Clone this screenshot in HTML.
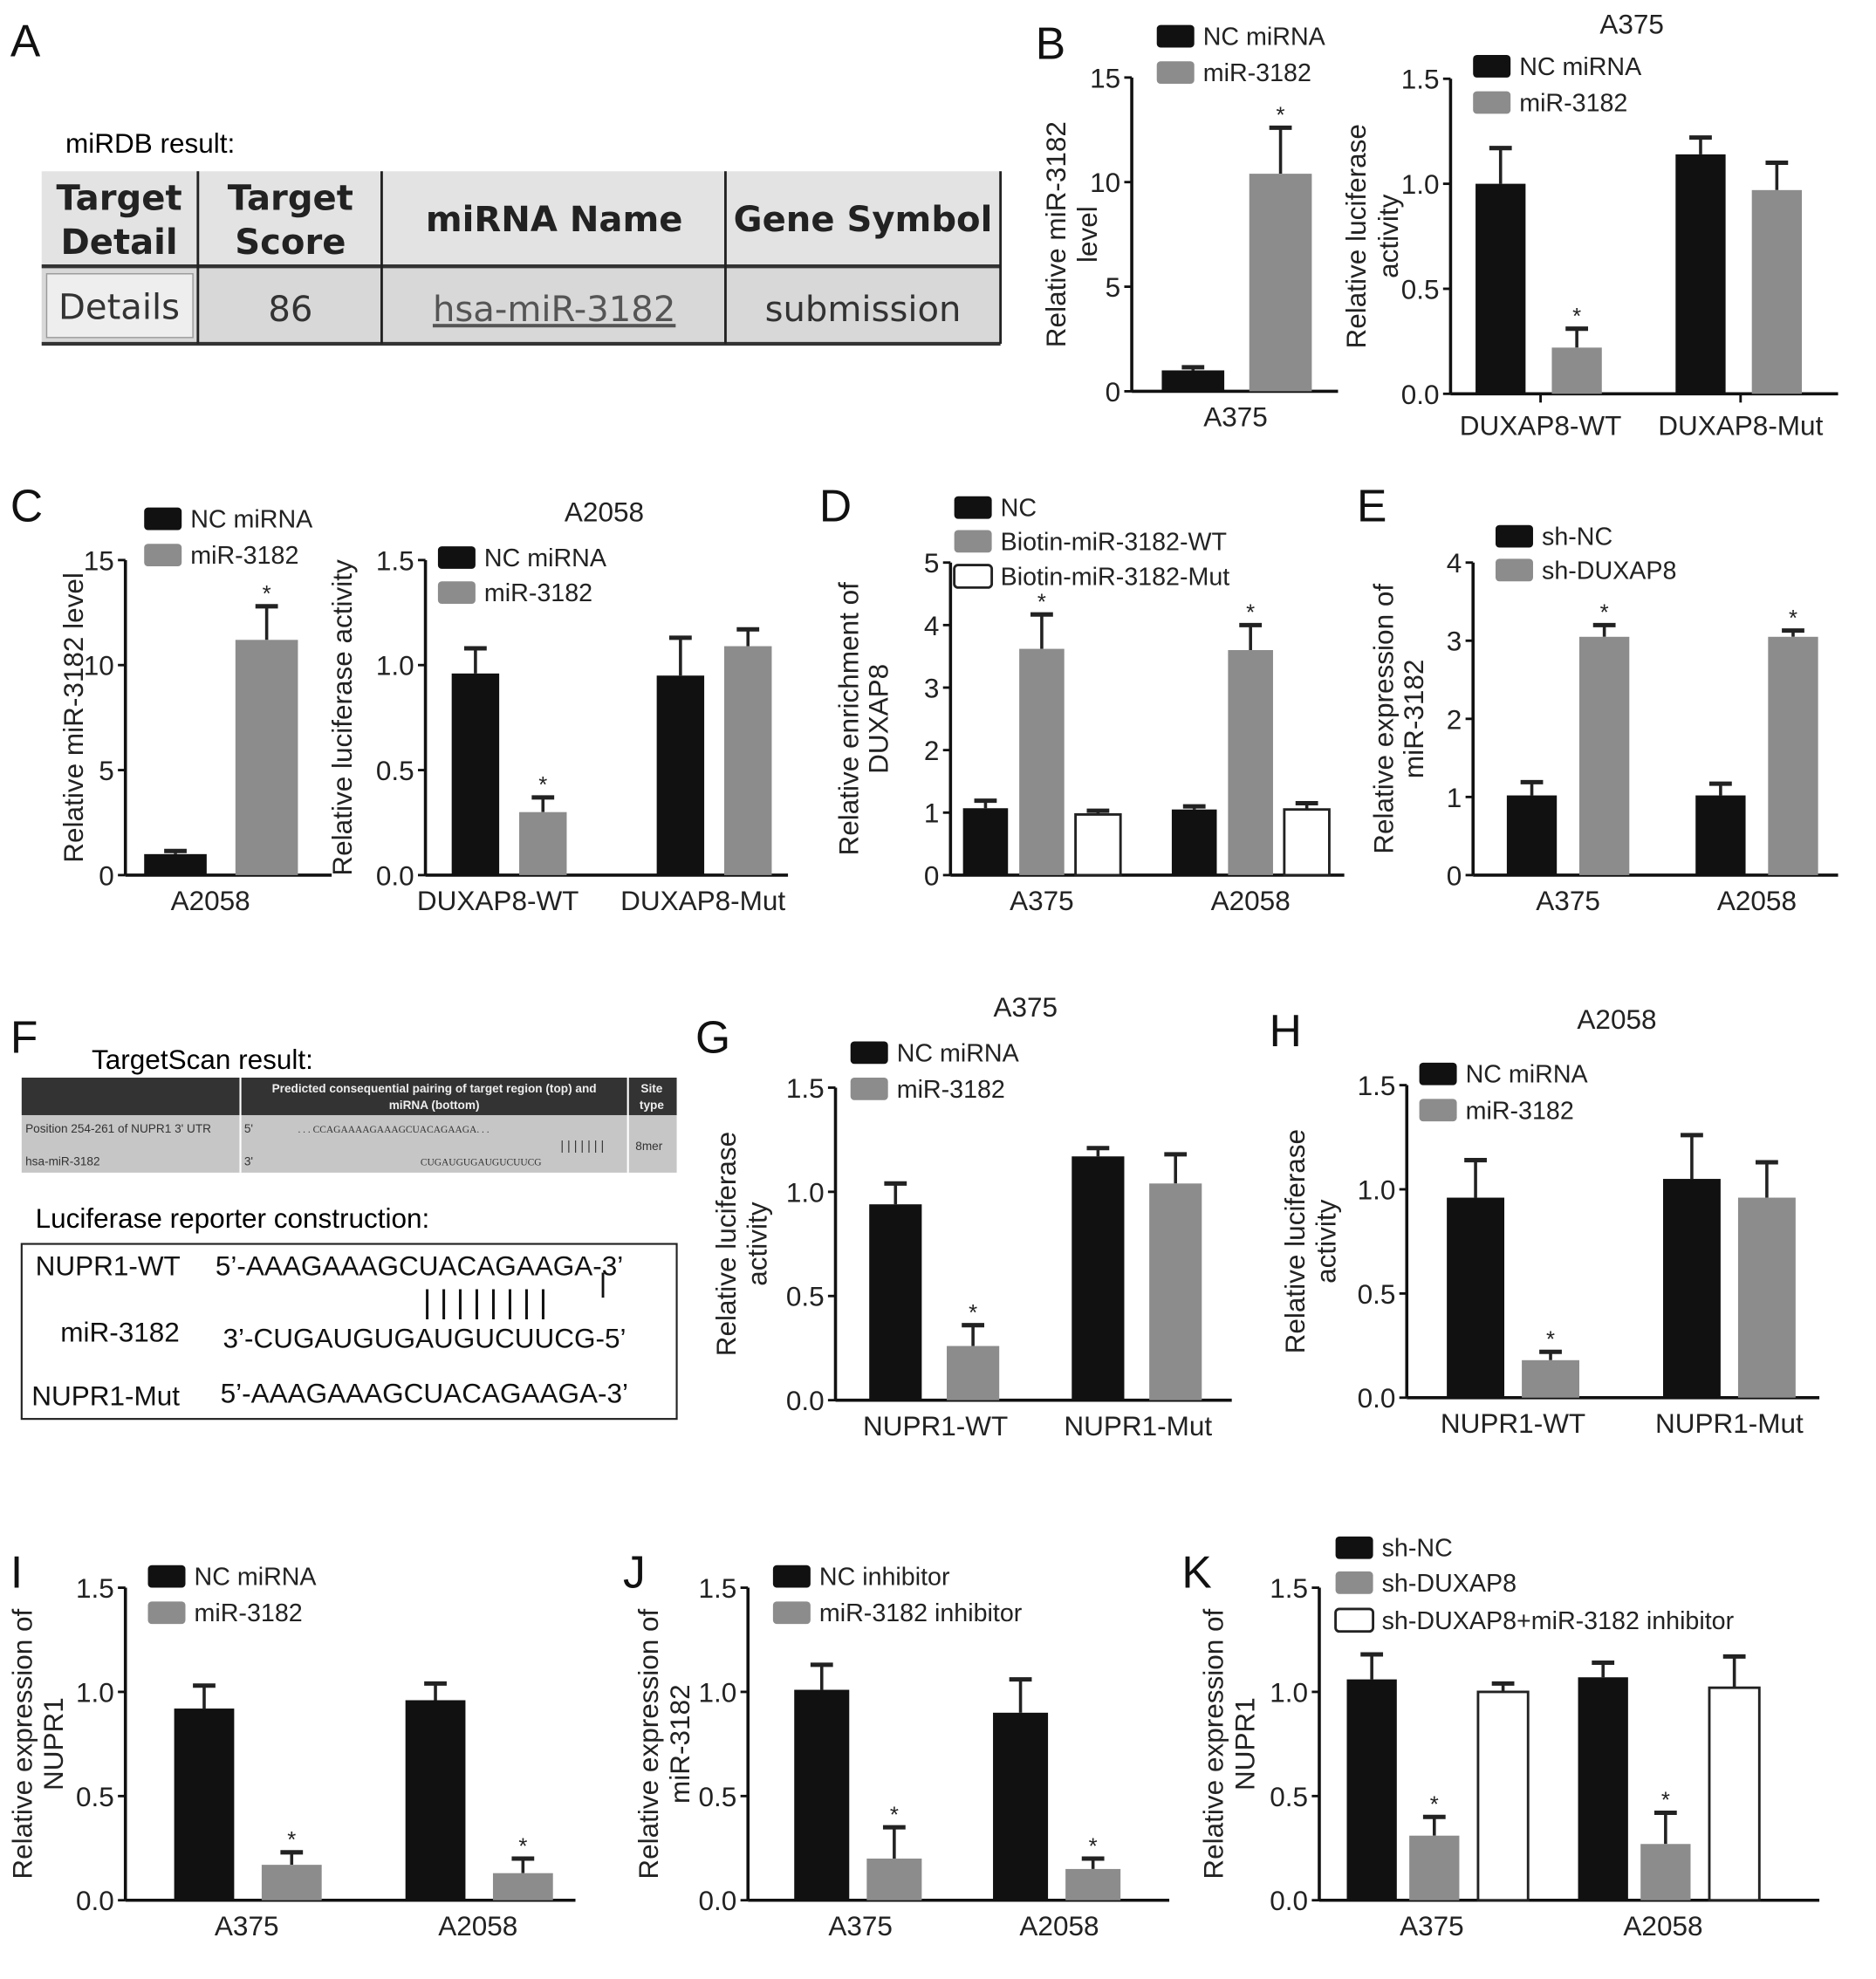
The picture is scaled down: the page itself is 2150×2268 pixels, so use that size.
<!DOCTYPE html>
<html><head><meta charset="utf-8"><style>
html,body{margin:0;padding:0;background:#fff;}
svg{display:block;font-family:"Liberation Sans",Arial,sans-serif;}
</style></head><body>
<svg id="fig" width="2150" height="2268" viewBox="0 0 1500 1583" xmlns="http://www.w3.org/2000/svg">
<g font-size="36" fill="#111">
<text x="8" y="45">A</text><text x="828" y="47">B</text><text x="8" y="417">C</text><text x="655" y="417">D</text><text x="1085" y="417">E</text><text x="8" y="842">F</text><text x="556" y="842">G</text><text x="1015" y="837">H</text><text x="8" y="1270">I</text><text x="498" y="1270">J</text><text x="945" y="1270">K</text>
</g>
<g>
<text x="52" y="122" font-size="22">miRDB result:</text>
<rect x="33" y="137" width="767" height="76" fill="#e3e3e3"/>
<rect x="33" y="213" width="767" height="62" fill="#d8d8d8"/>
<line x1="33" y1="213" x2="800" y2="213" stroke="#333" stroke-width="3"/>
<line x1="33" y1="275" x2="800" y2="275" stroke="#333" stroke-width="3"/>
<line x1="158" y1="137" x2="158" y2="275" stroke="#222" stroke-width="2"/>
<line x1="305" y1="137" x2="305" y2="275" stroke="#222" stroke-width="2"/>
<line x1="580" y1="137" x2="580" y2="275" stroke="#222" stroke-width="2"/>
<line x1="800" y1="137" x2="800" y2="275" stroke="#222" stroke-width="2"/>
<g font-family="'DejaVu Sans',sans-serif" font-weight="bold" font-size="28" fill="#222" text-anchor="middle">
<text x="95" y="168">Target</text><text x="95" y="203">Detail</text>
<text x="232" y="168">Target</text><text x="232" y="203">Score</text>
<text x="443" y="185">miRNA Name</text><text x="690" y="185">Gene Symbol</text>
</g>
<rect x="37" y="219" width="117" height="51" fill="#eee" stroke="#999"/>
<g font-family="'DejaVu Sans',sans-serif" font-size="28" fill="#333" text-anchor="middle">
<text x="95" y="255">Details</text><text x="232" y="257">86</text>
<text x="443" y="257" fill="#555" text-decoration="underline">hsa-miR-3182</text>
<text x="690" y="257">submission</text>
</g>
</g>
<g>
<text x="73" y="855" font-size="22">TargetScan result:</text>
<rect x="17" y="862" width="524" height="30" fill="#333"/>
<rect x="17" y="892" width="524" height="46" fill="#c6c6c6"/>
<line x1="192" y1="862" x2="192" y2="938" stroke="#fff" stroke-width="1.5"/>
<line x1="502" y1="862" x2="502" y2="938" stroke="#fff" stroke-width="1.5"/>
<g font-size="9.5" fill="#eee" font-weight="bold" text-anchor="middle"><text x="347" y="874">Predicted consequential pairing of target region (top) and</text><text x="347" y="887">miRNA (bottom)</text><text x="521" y="874">Site</text><text x="521" y="887">type</text></g>
<g font-size="9.5" fill="#333"><text x="20" y="906">Position 254-261 of NUPR1 3' UTR</text><text x="20" y="932">hsa-miR-3182</text><text x="195" y="906">5'</text><text x="195" y="932">3'</text>
<text x="238" y="906" font-family="'Liberation Serif',serif" font-size="8">. . . CCAGAAAAGAAAGCUACAGAAGA. . .</text><text x="336" y="932" font-family="'Liberation Serif',serif" font-size="8">CUGAUGUGAUGUCUUCG</text><text x="448" y="920" font-size="10">| | | | | | |</text><text x="508" y="920">8mer</text></g>
<text x="28" y="982" font-size="22">Luciferase reporter construction:</text>
<rect x="17" y="995" width="524" height="140" fill="none" stroke="#222" stroke-width="1.5"/>
<g font-size="22" fill="#111"><text x="28" y="1020">NUPR1-WT</text><text x="172" y="1020">5’-AAAGAAAGCUACAGAAGA-3’</text>
<text x="48" y="1073">miR-3182</text><text x="178" y="1078">3’-CUGAUGUGAUGUCUUCG-5’</text>
<text x="25" y="1124">NUPR1-Mut</text><text x="176" y="1122">5’-AAAGAAAGCUACAGAAGA-3’</text>
<text x="338" y="1050" font-size="26" letter-spacing="6.5">||||||||</text><line x1="482" y1="1018" x2="482" y2="1038" stroke="#111" stroke-width="2"/></g>
</g>
<g id="charts"></g>
</svg>
<script>
// Panel B left
const bL_cats=["A375"], bL_nc=[1.0], bL_ncErr=[0.15], bL_mir=[10.4], bL_mirErr=[2.2], bL_ticks=[0,5,10,15];
// Panel B right
const bR_cats=["DUXAP8-WT","DUXAP8-Mut"], bR_nc=[1.0,1.14], bR_ncErr=[0.17,0.08], bR_mir=[0.22,0.97], bR_mirErr=[0.09,0.13], bR_ticks=["0.0","0.5","1.0","1.5"];
// Panel C left
const cL_cats=["A2058"], cL_nc=[1.0], cL_ncErr=[0.15], cL_mir=[11.2], cL_mirErr=[1.6], cL_ticks=[0,5,10,15];
// Panel C right
const cR_cats=["DUXAP8-WT","DUXAP8-Mut"], cR_nc=[0.96,0.95], cR_ncErr=[0.12,0.18], cR_mir=[0.3,1.09], cR_mirErr=[0.07,0.08], cR_ticks=["0.0","0.5","1.0","1.5"];
// Panel D
const d_cats=["A375","A2058"], d_nc=[1.07,1.05], d_ncErr=[0.12,0.05], d_wt=[3.62,3.6], d_wtErr=[0.55,0.4], d_mut=[0.97,1.05], d_mutErr=[0.06,0.1], d_ticks=[0,1,2,3,4,5];
// Panel E
const e_cats=["A375","A2058"], e_nc=[1.02,1.02], e_ncErr=[0.17,0.15], e_sh=[3.05,3.05], e_shErr=[0.15,0.08], e_ticks=[0,1,2,3,4];
// Panel G
const g_cats=["NUPR1-WT","NUPR1-Mut"], g_nc=[0.94,1.17], g_ncErr=[0.1,0.04], g_mir=[0.26,1.04], g_mirErr=[0.1,0.14], g_ticks=["0.0","0.5","1.0","1.5"];
// Panel H
const h_cats=["NUPR1-WT","NUPR1-Mut"], h_nc=[0.96,1.05], h_ncErr=[0.18,0.21], h_mir=[0.18,0.96], h_mirErr=[0.04,0.17], h_ticks=["0.0","0.5","1.0","1.5"];
// Panel I
const i_cats=["A375","A2058"], i_nc=[0.92,0.96], i_ncErr=[0.11,0.08], i_mir=[0.17,0.13], i_mirErr=[0.06,0.07], i_ticks=["0.0","0.5","1.0","1.5"];
// Panel J
const j_cats=["A375","A2058"], j_nc=[1.01,0.9], j_ncErr=[0.12,0.16], j_inh=[0.2,0.15], j_inhErr=[0.15,0.05], j_ticks=["0.0","0.5","1.0","1.5"];
// Panel K
const k_cats=["A375","A2058"], k_nc=[1.06,1.07], k_ncErr=[0.12,0.07], k_sh=[0.31,0.27], k_shErr=[0.09,0.15], k_inh=[1.0,1.02], k_inhErr=[0.04,0.15], k_ticks=["0.0","0.5","1.0","1.5"];

const NS="http://www.w3.org/2000/svg";
const root=document.getElementById('charts');
function mk(tag,attrs,parent,txt){const e=document.createElementNS(NS,tag);for(const k in attrs)e.setAttribute(k,attrs[k]);if(txt!==undefined)e.textContent=txt;parent.appendChild(e);return e;}
const FILL={black:"#111",gray:"#8c8c8c",white:"#fff"};

function chart(cfg){
  const g=mk('g',{},root);
  
  
  const ymax=parseFloat(cfg.ticks[cfg.ticks.length-1]);
  const y=v=>cfg.y0-(v/ymax)*(cfg.y0-cfg.yTop);
  const ax=mk('line',{x1:cfg.ax,y1:cfg.yTop,x2:cfg.ax,y2:cfg.y0,stroke:'#111','stroke-width':2.5},g);
  
  
  cfg.ticks.forEach(t=>{const v=parseFloat(t),yy=y(v);
    mk('line',{x1:cfg.ax-6,y1:yy,x2:cfg.ax,y2:yy,stroke:'#111','stroke-width':2},g);
    const tl=mk('text',{x:cfg.ax-9,y:yy+8,'font-size':22,'text-anchor':'end',fill:'#222'},g,String(t));
    
    
  });
  const xa=mk('line',{x1:cfg.ax,y1:cfg.y0,x2:cfg.xEnd,y2:cfg.y0,stroke:'#111','stroke-width':2.5},g);
  
  
  cfg.cats.forEach((c,ci)=>{
    const cx=cfg.groupX[ci];
    if(cfg.tickMarks) mk('line',{x1:cx,y1:cfg.y0,x2:cx,y2:cfg.y0+7,stroke:'#111','stroke-width':2},g);
    const cl=mk('text',{x:cx,y:cfg.y0+(cfg.catDy||28),'font-size':22,'text-anchor':'middle',fill:'#222'},g,c);
    
    
    cfg.series.forEach((s,si)=>{
      const v=s.vals[ci],er=s.err[ci];
      const bx=cx+cfg.offs[si]-cfg.bw/2;
      const top=y(v);
      const eb=mk('line',{x1:bx+cfg.bw/2,y1:top,x2:bx+cfg.bw/2,y2:y(v+er),stroke:'#222','stroke-width':2.5},g);
      
      
      mk('line',{x1:bx+cfg.bw/2-9,y1:y(v+er),x2:bx+cfg.bw/2+9,y2:y(v+er),stroke:'#222','stroke-width':3.5},g);
      const r=mk('rect',{x:bx,y:top,width:cfg.bw,height:cfg.y0-top,fill:FILL[s.col],stroke:s.col==='white'?'#222':'none','stroke-width':2},g);
      
      
      if(s.star&&s.star[ci]) mk('text',{x:bx+cfg.bw/2,y:y(v+er)-4,'font-size':18,'text-anchor':'middle',fill:'#222'},g,'*');
    });
  });
  cfg.series.forEach((s,si)=>{
    const ly=cfg.legY[si];
    const lg=mk('g',{},g);
    
    
    mk('rect',{x:cfg.legX,y:ly-9,width:30,height:18,rx:3,fill:FILL[s.col],stroke:s.col==='white'?'#222':'none','stroke-width':2},lg);
    mk('text',{x:cfg.legX+37,y:ly+7,'font-size':20,fill:'#222'},lg,s.label);
  });
  if(cfg.title){const t=mk('text',{x:cfg.title[1],y:cfg.title[2],'font-size':22,'text-anchor':'middle',fill:'#222'},g,cfg.title[0]);
    
    }
  const ym=(cfg.y0+cfg.yTop)/2;
  cfg.ytitle.forEach((line,li)=>{
    const tx=cfg.ytX[li];
    const t=mk('text',{x:tx,y:ym,'font-size':22,'text-anchor':'middle',fill:'#222',transform:`rotate(-90 ${tx} ${ym})`},g,line);
    
    
  });
}
const S=(label,col,vals,err,star)=>({label,col,vals,err,star});

chart({name:'chart-b-mir3182-level',ax:905,xEnd:1070,y0:313,yTop:62,ticks:bL_ticks,cats:bL_cats,groupX:[988],offs:[-34,36],bw:50,
 series:[S('NC miRNA','black',bL_nc,bL_ncErr),S('miR-3182','gray',bL_mir,bL_mirErr,[1])],legX:925,legY:[29,58],ytitle:['Relative miR-3182','level'],ytX:[852,877]});
chart({name:'chart-b-luciferase',ax:1160,xEnd:1470,y0:315,yTop:63,ticks:bR_ticks,cats:bR_cats,groupX:[1232,1392],offs:[-32,29],bw:40,tickMarks:1,catDy:33,
 series:[S('NC miRNA','black',bR_nc,bR_ncErr),S('miR-3182','gray',bR_mir,bR_mirErr,[1,0])],legX:1178,legY:[53,82],title:['A375',1305,27],ytitle:['Relative luciferase','activity'],ytX:[1092,1118]});
chart({name:'chart-c-mir3182-level',ax:100,xEnd:265,y0:700,yTop:448,ticks:cL_ticks,cats:cL_cats,groupX:[168],offs:[-28,45],bw:50,
 series:[S('NC miRNA','black',cL_nc,cL_ncErr),S('miR-3182','gray',cL_mir,cL_mirErr,[1])],legX:115,legY:[415,444],ytitle:['Relative miR-3182 level'],ytX:[66]});
chart({name:'chart-c-luciferase',ax:340,xEnd:630,y0:700,yTop:448,ticks:cR_ticks,cats:cR_cats,groupX:[398,562],offs:[-18,36],bw:38,
 series:[S('NC miRNA','black',cR_nc,cR_ncErr),S('miR-3182','gray',cR_mir,cR_mirErr,[1,0])],legX:350,legY:[446,474],title:['A2058',483,417],ytitle:['Relative luciferase activity'],ytX:[281]});
chart({name:'chart-d-enrichment',ax:760,xEnd:1075,y0:700,yTop:450,ticks:d_ticks,cats:d_cats,groupX:[833,1000],offs:[-45,0,45],bw:36,
 series:[S('NC','black',d_nc,d_ncErr),S('Biotin-miR-3182-WT','gray',d_wt,d_wtErr,[1,1]),S('Biotin-miR-3182-Mut','white',d_mut,d_mutErr)],legX:763,legY:[406,433,461],ytitle:['Relative enrichment of','DUXAP8'],ytX:[686,710]});
chart({name:'chart-e-mir3182-expression',ax:1178,xEnd:1470,y0:700,yTop:450,ticks:e_ticks,cats:e_cats,groupX:[1254,1405],offs:[-29,29],bw:40,
 series:[S('sh-NC','black',e_nc,e_ncErr),S('sh-DUXAP8','gray',e_sh,e_shErr,[1,1])],legX:1196,legY:[429,456],ytitle:['Relative expression of','miR-3182'],ytX:[1114,1138]});
chart({name:'chart-g-luciferase-a375',ax:668,xEnd:985,y0:1120,yTop:870,ticks:g_ticks,cats:g_cats,groupX:[748,910],offs:[-32,30],bw:42,
 series:[S('NC miRNA','black',g_nc,g_ncErr),S('miR-3182','gray',g_mir,g_mirErr,[1,0])],legX:680,legY:[842,871],title:['A375',820,813],ytitle:['Relative luciferase','activity'],ytX:[588,613]});
chart({name:'chart-h-luciferase-a2058',ax:1125,xEnd:1455,y0:1118,yTop:868,ticks:h_ticks,cats:h_cats,groupX:[1210,1383],offs:[-30,30],bw:46,
 series:[S('NC miRNA','black',h_nc,h_ncErr),S('miR-3182','gray',h_mir,h_mirErr,[1,0])],legX:1135,legY:[859,888],title:['A2058',1293,823],ytitle:['Relative luciferase','activity'],ytX:[1043,1068]});
chart({name:'chart-i-nupr1-expression',ax:100,xEnd:460,y0:1520,yTop:1270,ticks:i_ticks,cats:i_cats,groupX:[197,382],offs:[-34,36],bw:48,
 series:[S('NC miRNA','black',i_nc,i_ncErr),S('miR-3182','gray',i_mir,i_mirErr,[1,1])],legX:118,legY:[1261,1290],ytitle:['Relative expression of','NUPR1'],ytX:[25,50]});
chart({name:'chart-j-mir3182-expression',ax:598,xEnd:935,y0:1520,yTop:1270,ticks:j_ticks,cats:j_cats,groupX:[688,847],offs:[-31,27],bw:44,
 series:[S('NC inhibitor','black',j_nc,j_ncErr),S('miR-3182 inhibitor','gray',j_inh,j_inhErr,[1,1])],legX:618,legY:[1261,1290],ytitle:['Relative expression of','miR-3182'],ytX:[526,551]});
chart({name:'chart-k-nupr1-expression',ax:1055,xEnd:1455,y0:1520,yTop:1270,ticks:k_ticks,cats:k_cats,groupX:[1145,1330],offs:[-48,2,57],bw:40,
 series:[S('sh-NC','black',k_nc,k_ncErr),S('sh-DUXAP8','gray',k_sh,k_shErr,[1,1]),S('sh-DUXAP8+miR-3182 inhibitor','white',k_inh,k_inhErr)],legX:1068,legY:[1238,1266,1296],ytitle:['Relative expression of','NUPR1'],ytX:[978,1003]});
</script>
</body></html>
